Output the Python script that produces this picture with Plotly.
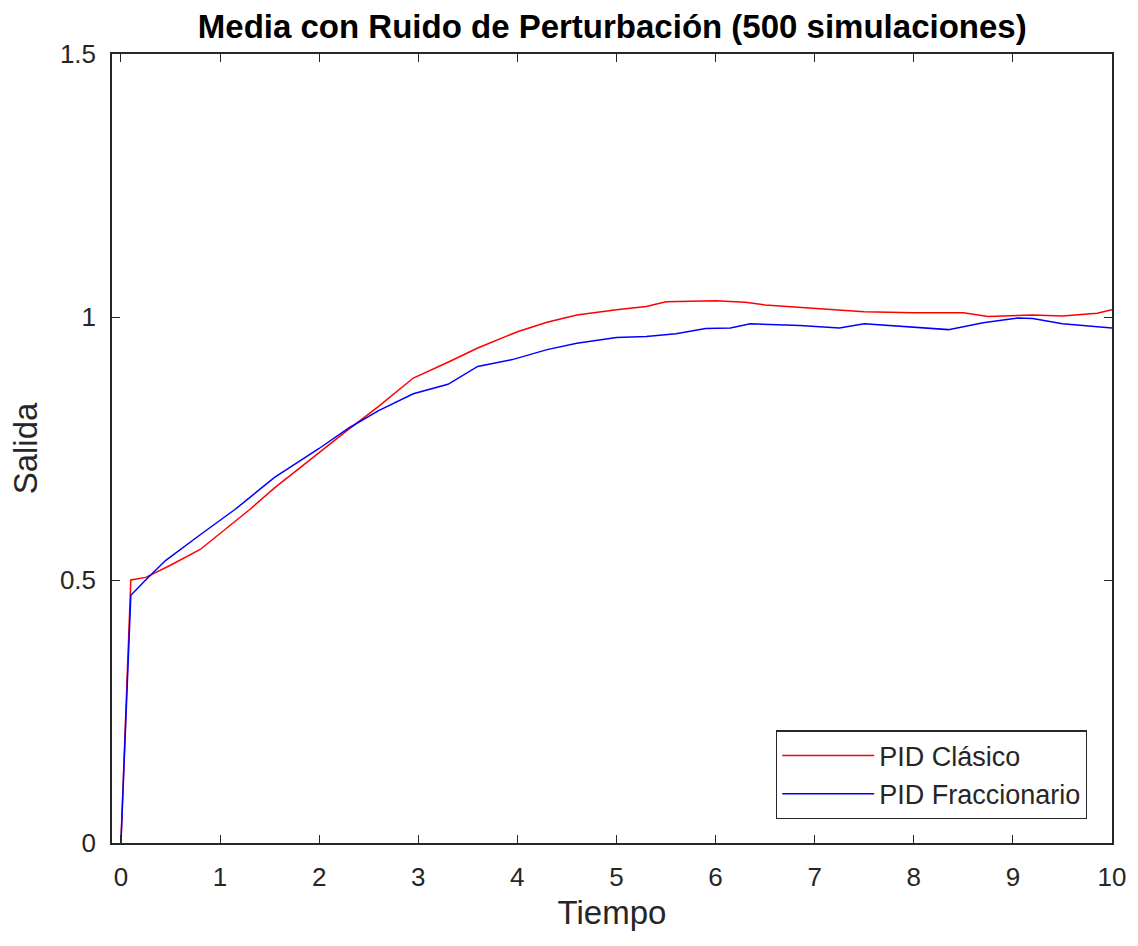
import plotly.graph_objects as go

t_clasico = [0, 0.1, 0.25, 0.5, 0.8, 1.1, 1.3, 1.55, 2.0, 2.3, 2.6, 2.95, 3.3, 3.6, 4.0, 4.3, 4.6,
             5.0, 5.3, 5.5, 6.0, 6.3, 6.5, 6.95, 7.2, 7.5, 8.0, 8.5, 8.75, 9.2, 9.5, 9.85, 10.0]
y_clasico = [0, 0.5, 0.505, 0.528, 0.558, 0.603, 0.634, 0.675, 0.743, 0.787, 0.830, 0.884, 0.914,
             0.941, 0.972, 0.990, 1.004, 1.014, 1.020, 1.029, 1.031, 1.028, 1.023, 1.018, 1.014,
             1.010, 1.008, 1.008, 1.001, 1.004, 1.002, 1.007, 1.014]

t_frac = [0, 0.1, 0.25, 0.45, 0.8, 1.15, 1.55, 2.0, 2.3, 2.6, 2.95, 3.3, 3.6, 3.95, 4.3, 4.6, 5.0,
          5.3, 5.6, 5.9, 6.15, 6.35, 6.85, 7.25, 7.5, 7.85, 8.35, 8.7, 9.05, 9.2, 9.5, 10.0]
y_frac = [0, 0.471, 0.5, 0.537, 0.586, 0.634, 0.695, 0.75, 0.789, 0.822, 0.854, 0.872, 0.906,
          0.919, 0.938, 0.950, 0.961, 0.963, 0.968, 0.978, 0.979, 0.987, 0.984, 0.979, 0.987,
          0.982, 0.976, 0.989, 0.998, 0.997, 0.987, 0.979]

x_ticks = list(range(0, 11))
y_ticks = [0, 0.5, 1, 1.5]
y_ticklabels = ["0", "0.5", "1", "1.5"]

FONT = "Liberation Sans, Arial, sans-serif"
GRAY = "#262626"

fig = go.Figure()
fig.add_trace(go.Scatter(x=t_clasico, y=y_clasico, mode="lines", name="PID Clásico",
                         line=dict(color="#FF0000", width=1.5)))
fig.add_trace(go.Scatter(x=t_frac, y=y_frac, mode="lines", name="PID Fraccionario",
                         line=dict(color="#0000FF", width=1.5)))

axis_common = dict(showgrid=False, zeroline=False, showline=True, linecolor=GRAY,
                   linewidth=1.5, mirror="ticks", ticks="inside", ticklen=8, tickwidth=1.2,
                   tickcolor=GRAY, tickfont=dict(family=FONT, size=26, color=GRAY))

fig.update_xaxes(range=[-0.09, 10.0], tickvals=x_ticks, ticklabelstandoff=10,
                 title=dict(text="Tiempo", font=dict(family=FONT, size=33, color=GRAY), standoff=10),
                 **axis_common)
fig.update_yaxes(range=[0, 1.5], tickvals=y_ticks, ticktext=y_ticklabels, ticklabelstandoff=9,
                 title=dict(text="Salida", font=dict(family=FONT, size=33, color=GRAY), standoff=12),
                 **axis_common)

fig.update_layout(
    width=1138, height=946,
    margin=dict(l=112, r=26, t=54, b=103),
    paper_bgcolor="white", plot_bgcolor="white",
    title=dict(text="<b>Media con Ruido de Perturbación (500 simulaciones)</b>",
               font=dict(family=FONT, size=33, color="black"),
               x=0.538, xanchor="center", y=0.972, yanchor="middle"),
    legend=dict(x=0.975, y=0.03, xanchor="right", yanchor="bottom",
                bgcolor="white", bordercolor=GRAY, borderwidth=1.2,
                font=dict(family=FONT, size=27, color=GRAY),
                tracegroupgap=0, itemwidth=92),
    showlegend=True,
)

fig.write_html("out.html")
